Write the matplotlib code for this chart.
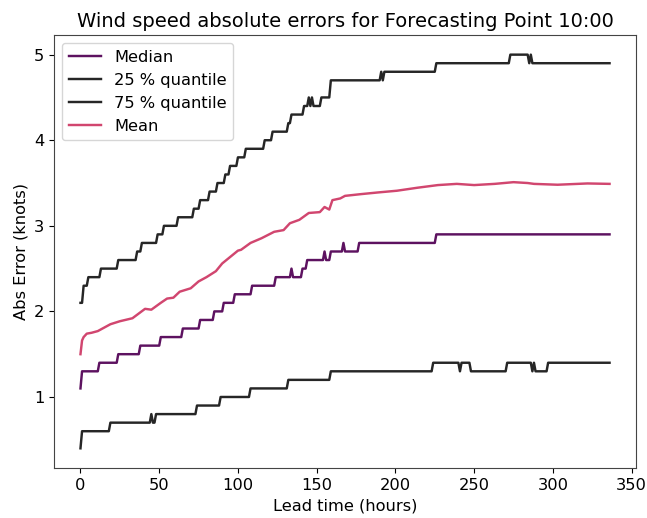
import numpy as np
import matplotlib
matplotlib.use("Agg")
import matplotlib.pyplot as plt

# Lead times (hours)
lead_hours = np.arange(0, 337)

# Step series: hour at which a new value starts, and that value
median_change_hours = [0, 1, 12, 24, 38, 51, 65, 76, 85, 91, 98, 109, 124, 134, 135,
                       141, 144, 155, 156, 159, 167, 168, 177, 226]
median_values = [1.1, 1.3, 1.4, 1.5, 1.6, 1.7, 1.8, 1.9, 2.0, 2.1, 2.2, 2.3, 2.4, 2.5, 2.4,
                 2.5, 2.6, 2.7, 2.6, 2.7, 2.8, 2.7, 2.8, 2.9]

q25_change_hours = [0, 1, 19, 45, 46, 48, 74, 89, 108, 132, 159, 224, 241, 242,
                    248, 271, 287, 288, 289, 297]
q25_values = [0.4, 0.6, 0.7, 0.8, 0.7, 0.8, 0.9, 1.0, 1.1, 1.2, 1.3, 1.4, 1.3, 1.4,
              1.3, 1.4, 1.3, 1.4, 1.3, 1.4]

q75_change_hours = [0, 2, 5, 13, 24, 36, 39, 49, 53, 62, 72, 76, 82, 87, 92, 95, 100,
                    105, 117, 122, 132, 134, 142, 145, 146, 147, 148, 153, 159, 191,
                    192, 193, 226, 273, 285, 286, 287]
q75_values = [2.1, 2.3, 2.4, 2.5, 2.6, 2.7, 2.8, 2.9, 3.0, 3.1, 3.2, 3.3, 3.4, 3.5, 3.6,
              3.7, 3.8, 3.9, 4.0, 4.1, 4.2, 4.3, 4.4, 4.5, 4.4, 4.5, 4.4, 4.5, 4.7, 4.8,
              4.7, 4.8, 4.9, 5.0, 4.9, 5.0, 4.9]

# Mean (sampled along the curve)
mean_hours = [0, 1, 2, 4, 7, 11, 15, 19, 25, 33, 37, 41, 45, 51, 55, 59, 63, 70, 75, 80,
              86, 90, 94, 100, 102, 108, 115, 123, 129, 133, 139, 145, 152, 155, 158,
              160, 165, 168, 178, 189, 201, 214, 227, 239, 250, 263, 275, 284, 288,
              303, 322, 336]
mean_values = [1.50, 1.66, 1.70, 1.74, 1.75, 1.77, 1.81, 1.85, 1.885, 1.92, 1.975, 2.03,
               2.02, 2.10, 2.15, 2.16, 2.23, 2.27, 2.35, 2.40, 2.47, 2.56, 2.62, 2.71,
               2.72, 2.80, 2.855, 2.93, 2.95, 3.03, 3.07, 3.15, 3.16, 3.22, 3.19, 3.30,
               3.32, 3.35, 3.37, 3.39, 3.41, 3.445, 3.476, 3.49, 3.476, 3.49, 3.51, 3.50,
               3.49, 3.48, 3.495, 3.49]


def expand(change_hours, values):
    idx = np.searchsorted(change_hours, lead_hours, side="right") - 1
    return np.asarray(values)[idx]


median = expand(median_change_hours, median_values)
q25 = expand(q25_change_hours, q25_values)
q75 = expand(q75_change_hours, q75_values)

fig = plt.figure(figsize=(6.47, 5.18), dpi=100)
ax = fig.add_axes([0.0835, 0.0965, 0.8995, 0.836])

lw = 1.75
ax.plot(lead_hours, median, color="#5d1260", lw=lw, label="Median")
ax.plot(lead_hours, q25, color="#262626", lw=lw, label="25 % quantile")
ax.plot(lead_hours, q75, color="#262626", lw=lw, label="75 % quantile")
ax.plot(mean_hours, mean_values, color="#d1466f", lw=lw, label="Mean")

fs = 11.7
ax.set_xticks([0, 50, 100, 150, 200, 250, 300, 350])
ax.set_yticks([1, 2, 3, 4, 5])
ax.set_xlabel("Lead time (hours)", fontsize=fs)
ax.set_ylabel("Abs Error (knots)", fontsize=fs)
ax.set_title("Wind speed absolute errors for Forecasting Point 10:00", fontsize=14)
ax.tick_params(labelsize=fs)
for s in ax.spines.values():
    s.set_color("#444444")
ax.legend(loc="upper left", fontsize=fs)

fig.savefig("out.png", dpi=100)
